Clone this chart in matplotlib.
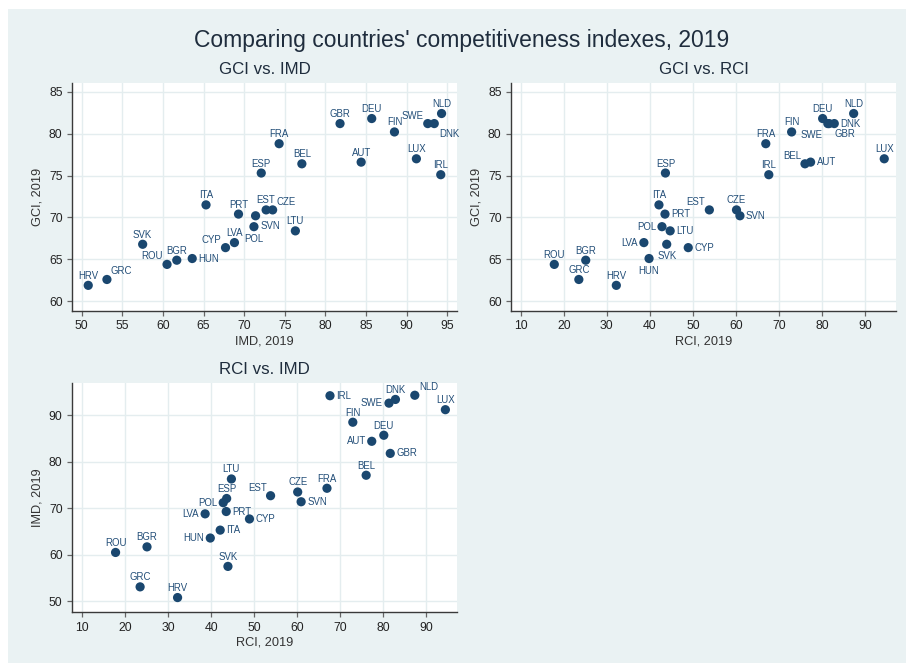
import matplotlib
matplotlib.use("Agg")
import matplotlib.pyplot as plt
from matplotlib.patches import Rectangle

plt.rcParams['font.family'] = ['Liberation Sans', 'DejaVu Sans']

countries = ["HRV", "GRC", "SVK", "ROU", "BGR", "HUN", "CYP", "LVA", "POL", "ITA",
             "PRT", "SVN", "EST", "CZE", "LTU", "ESP", "FRA", "BEL", "GBR", "DEU",
             "AUT", "FIN", "SWE", "DNK", "NLD", "LUX", "IRL"]
imd = [50.8, 53.1, 57.5, 60.5, 61.7, 63.6, 67.7, 68.8, 71.2, 65.3,
       69.3, 71.4, 72.7, 73.5, 76.3, 72.1, 74.3, 77.1, 81.8, 85.7,
       84.4, 88.5, 92.6, 93.4, 94.3, 91.2, 94.2]
gci = [61.9, 62.6, 66.8, 64.4, 64.9, 65.1, 66.4, 67.0, 68.9, 71.5,
       70.4, 70.2, 70.9, 70.9, 68.4, 75.3, 78.8, 76.4, 81.2, 81.8,
       76.6, 80.2, 81.2, 81.2, 82.4, 77.0, 75.1]
rci = [32.2, 23.5, 43.9, 17.8, 25.1, 39.8, 48.9, 38.6, 42.8, 42.1,
       43.5, 60.9, 53.8, 60.1, 44.7, 43.6, 66.9, 76.0, 81.6, 80.1,
       77.3, 72.9, 81.3, 82.8, 87.3, 94.4, 67.6]

main_title = "Comparing countries' competitiveness indexes, 2019"
sub_titles = ["GCI vs. IMD", "GCI vs. RCI", "RCI vs. IMD"]
x_titles = ["IMD, 2019", "RCI, 2019", "RCI, 2019"]
y_titles = ["GCI, 2019", "GCI, 2019", "IMD, 2019"]
x_ticks = [list(range(50, 96, 5)), list(range(10, 91, 10)), list(range(10, 91, 10))]
y_ticks = [list(range(60, 86, 5)), list(range(60, 86, 5)), list(range(50, 91, 10))]

# label positions (style)
pos1 = {"GRC": "NE", "CZE": "NE", "ROU": "NW", "CYP": "NW", "SWE": "NW",
        "HUN": "E", "SVN": "SE", "DNK": "SE", "POL": "S"}
pos2 = {"LVA": "W", "POL": "W", "HUN": "S", "SVK": "S", "LTU": "E", "PRT": "E",
        "CYP": "E", "SVN": "E", "DNK": "E", "AUT": "E", "EST": "NW", "BEL": "NW",
        "SWE": "SW", "GBR": "SE"}
pos3 = {"LVA": "W", "HUN": "W", "POL": "W", "SWE": "W", "AUT": "W", "ITA": "E",
        "PRT": "E", "CYP": "E", "SVN": "E", "IRL": "E", "GBR": "E", "EST": "NW",
        "NLD": "NE"}
offsets = {"N": (0, 9.5, "center"), "NE": (4, 8, "left"), "E": (6, 0, "left"),
           "SE": (5, -10, "left"), "S": (0, -12, "center"), "SW": (-5, -11, "right"),
           "W": (-6, 0, "right"), "NW": (-4, 8, "right")}

W, H = 906, 663
fig = plt.figure(figsize=(W / 100, H / 100), dpi=100, facecolor="white")
bg = Rectangle((8 / W, 0), 1 - 8 / W, 1 - 9 / H, transform=fig.transFigure,
               facecolor="#eaf2f3", edgecolor="none", zorder=-10)
fig.add_artist(bg)

NAVY = "#1a476f"
TXT = "#1f2d3d"

def make_ax(l, r, t, b):
    return fig.add_axes([l / W, 1 - b / H, (r - l) / W, (b - t) / H])

axes_px = [(72, 457, 83, 311), (511, 896, 83, 311), (72, 457, 382.7, 612.3)]
xlims = [(48.8, 96.2), (7.75, 97.13), (7.68, 97.1)]
ylims = [(58.84, 86.04), (58.84, 86.04), (47.63, 97.0)]
data = [(imd, gci, pos1), (rci, gci, pos2), (rci, imd, pos3)]
sub_y = [69, 69, 370]

for i, (px, (xs, ys, pos)) in enumerate(zip(axes_px, data)):
    ax = make_ax(*px)
    ax.set_zorder(1)
    ax.set_facecolor("white")
    ax.scatter(xs, ys, s=44, color=NAVY, edgecolors="none", zorder=3)
    for c, x, y in zip(countries, xs, ys):
        dx, dy, ha = offsets[pos.get(c, "N")]
        ax.annotate(c, (x, y), xytext=(dx, dy), textcoords="offset pixels",
                    ha=ha, va="center", fontsize=6.9, color="#234e78", zorder=4)
    ax.set_xlim(*xlims[i])
    ax.set_ylim(*ylims[i])
    ax.set_xticks(x_ticks[i])
    ax.set_yticks(y_ticks[i])
    ax.grid(True, color="#e4edef", linewidth=1.0, zorder=0)
    ax.set_axisbelow(True)
    for s in ["top", "right"]:
        ax.spines[s].set_visible(False)
    for s in ["left", "bottom"]:
        ax.spines[s].set_color("#3a3a3a")
        ax.spines[s].set_linewidth(1.0)
    ax.tick_params(axis="both", direction="out", length=3.8, width=0.9, color="#666666",
                   labelsize=8.8, labelcolor="#222222", pad=3)
    ax.set_xlabel(x_titles[i], fontsize=9.2, color="#333333", labelpad=2)
    ax.set_ylabel(y_titles[i], fontsize=9.2, color="#333333", labelpad=4)
    cx = (px[0] + px[1]) / 2
    fig.text(cx / W, 1 - sub_y[i] / H, sub_titles[i], ha="center", va="center",
             fontsize=12.2, color=TXT)

fig.text(462 / W, 1 - 40 / H, main_title, ha="center", va="center", fontsize=16.5, color=TXT)

fig.savefig("out.png", dpi=100, facecolor="white")
